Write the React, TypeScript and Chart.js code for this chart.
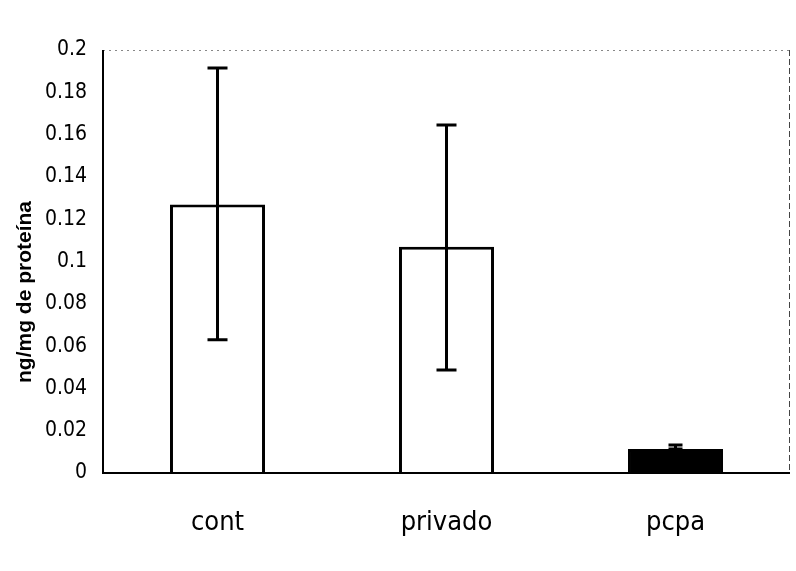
import React, { useEffect, useRef } from "react";
import { Chart, registerables } from "chart.js";

Chart.register(...registerables);

const categories = ["cont", "privado", "pcpa"];
const means = [0.127, 0.107, 0.0113];
const errLow = [0.063, 0.0487, 0.0113];
const errHigh = [0.1915, 0.1645, 0.0132];
const fills = ["#ffffff", "#ffffff", "#000000"];
const yTickValues = [0, 0.02, 0.04, 0.06, 0.08, 0.1, 0.12, 0.14, 0.16, 0.18, 0.2];
const yTitle = "ng/mg de proteína";

const W = 796;
const H = 571;

const framePlugin = {
  id: "frame",
  afterDatasetsDraw(chart: any) {
    const { ctx, chartArea, scales } = chart;
    const { left, right, top, bottom } = chartArea;
    ctx.save();
    // top dotted
    ctx.strokeStyle = "#888";
    ctx.lineWidth = 1;
    ctx.setLineDash([2, 4]);
    ctx.beginPath();
    ctx.moveTo(left, top + 0.5);
    ctx.lineTo(right, top + 0.5);
    ctx.stroke();
    // right dashed
    ctx.strokeStyle = "#444";
    ctx.setLineDash([6, 3]);
    ctx.beginPath();
    ctx.moveTo(right - 0.5, top);
    ctx.lineTo(right - 0.5, bottom);
    ctx.stroke();
    ctx.setLineDash([]);
    // error bars
    const meta = chart.getDatasetMeta(0);
    const ys = scales.y;
    ctx.strokeStyle = "#000";
    ctx.lineWidth = 3;
    meta.data.forEach((bar: any, i: number) => {
      const x = bar.x;
      const yl = ys.getPixelForValue(errLow[i]);
      const yh = ys.getPixelForValue(errHigh[i]);
      const cap = i === 2 ? 14 : 20;
      ctx.beginPath();
      ctx.moveTo(x, yl);
      ctx.lineTo(x, yh);
      ctx.moveTo(x - cap / 2, yh);
      ctx.lineTo(x + cap / 2, yh);
      ctx.moveTo(x - cap / 2, yl);
      ctx.lineTo(x + cap / 2, yl);
      ctx.stroke();
    });
    // left & bottom axes
    ctx.strokeStyle = "#000";
    ctx.lineWidth = 2;
    ctx.beginPath();
    ctx.moveTo(left, top);
    ctx.lineTo(left, bottom);
    ctx.lineTo(right, bottom);
    ctx.stroke();
    // y title
    ctx.fillStyle = "#000";
    ctx.font = "bold 21px 'Liberation Sans', Arial, sans-serif";
    ctx.textAlign = "center";
    ctx.textBaseline = "middle";
    ctx.translate(25, 292);
    ctx.rotate(-Math.PI / 2);
    ctx.fillText(yTitle, 0, 0);
    ctx.restore();
  },
};

export default function App() {
  const ref = useRef<HTMLCanvasElement | null>(null);
  useEffect(() => {
    document.body.style.margin = "0";
    const chart = new Chart(ref.current as HTMLCanvasElement, {
      type: "bar",
      data: {
        labels: categories,
        datasets: [
          {
            data: means,
            backgroundColor: fills,
            borderColor: "#000",
            borderWidth: 3,
            categoryPercentage: 1,
            barPercentage: 0.415,
          },
        ],
      },
      options: {
        animation: false,
        responsive: false,
        layout: { padding: { left: 0, right: 6, top: 50, bottom: 0 } },
        plugins: { legend: { display: false }, tooltip: { enabled: false } },
        scales: {
          x: {
            grid: { display: false, drawTicks: false },
            border: { display: false },
            ticks: {
              color: "#000",
              padding: 34,
              font: { family: "'DejaVu Sans Condensed', sans-serif", size: 27 },
            },
            afterFit(scale: any) {
              scale.height = 98;
            },
          },
          y: {
            min: 0,
            max: 0.2,
            grid: { display: false, drawTicks: false },
            border: { display: false },
            afterBuildTicks(scale: any) {
              scale.ticks = yTickValues.map((v) => ({ value: v }));
            },
            ticks: {
              color: "#000",
              padding: 16,
              font: { family: "'DejaVu Sans Condensed', sans-serif", size: 21 },
              callback: (v: any) => String(Number(Number(v).toFixed(2))),
            },
            afterFit(scale: any) {
              scale.width = 103;
            },
          },
        },
      },
      plugins: [framePlugin],
    });
    return () => chart.destroy();
  }, []);
  return (
    <div style={{ width: W, height: H }}>
      <canvas ref={ref} width={W} height={H} style={{ width: W, height: H, display: "block" }} />
    </div>
  );
}
